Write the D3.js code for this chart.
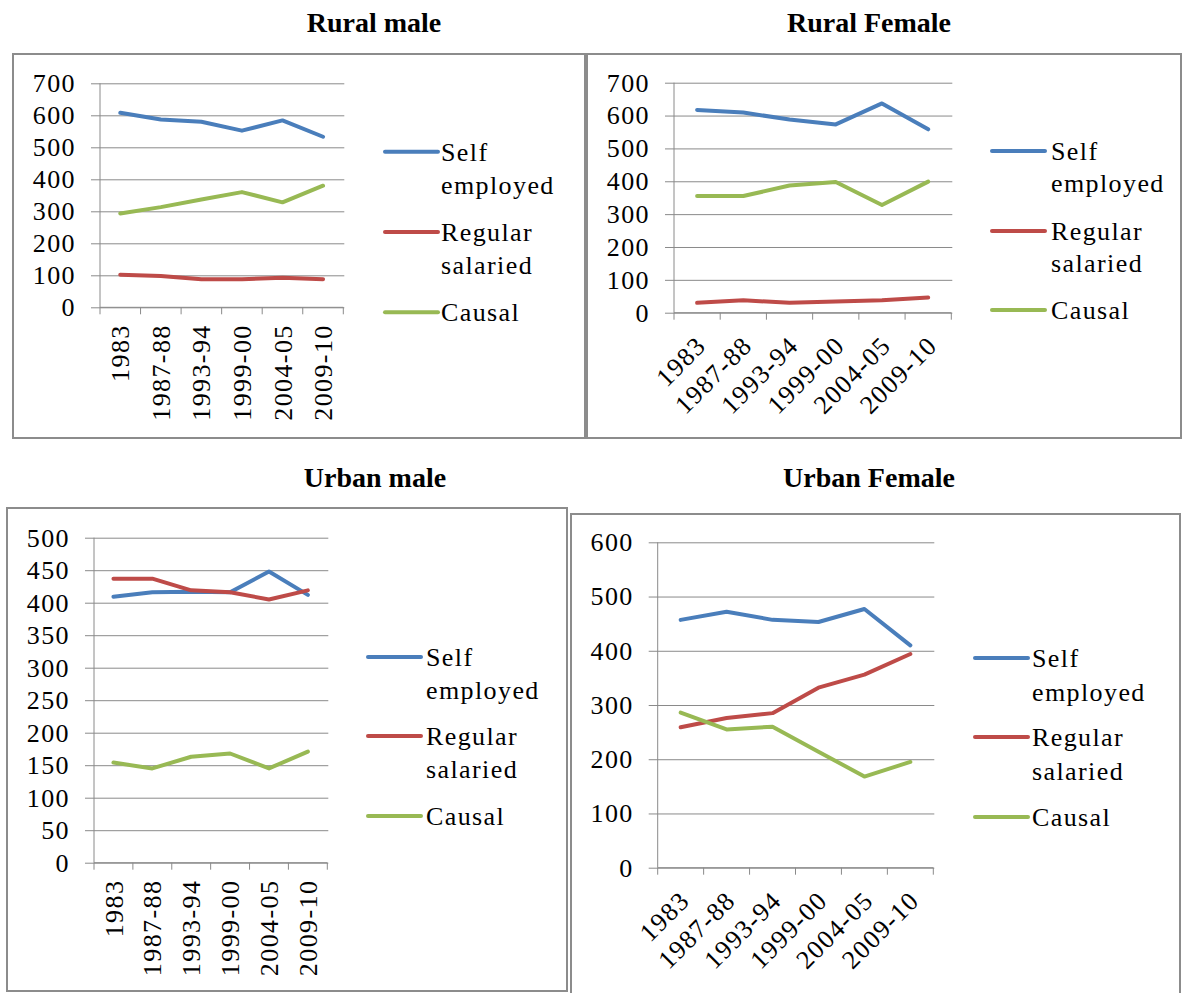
<!DOCTYPE html>
<html>
<head>
<meta charset="utf-8">
<script src="https://cdn.jsdelivr.net/npm/d3@7"></script>
<style>
  html, body { margin: 0; padding: 0; background: #fff; }
  svg { display: block; }
</style>
</head>
<body>
<svg id="chart" width="1183" height="993"></svg>
<script>
// ---------------- DATA ----------------
const categories = ["1983", "1987-88", "1993-94", "1999-00", "2004-05", "2009-10"];
const seriesNames = ["Self employed", "Regular salaried", "Causal"];
const legendLines = [["Self", "employed"], ["Regular", "salaried"], ["Causal"]];
const titles = ["Rural male", "Rural Female", "Urban male", "Urban Female"];

const ruralMaleSelf = [608, 587, 580, 552, 584, 533];
const ruralMaleRegular = [102, 98, 88, 88, 92, 88];
const ruralMaleCausal = [293, 313, 337, 360, 328, 380];

const ruralFemaleSelf = [617, 609, 588, 573, 637, 558];
const ruralFemaleRegular = [30, 38, 30, 34, 38, 46];
const ruralFemaleCausal = [355, 355, 387, 398, 328, 399];

const urbanMaleSelf = [409, 416, 417, 416, 448, 412];
const urbanMaleRegular = [437, 437, 419, 416, 405, 419];
const urbanMaleCausal = [154, 145, 163, 168, 145, 171];

const urbanFemaleSelf = [457, 472, 457, 453, 477, 410];
const urbanFemaleRegular = [259, 276, 285, 332, 356, 394];
const urbanFemaleCausal = [286, 255, 260, 214, 168, 195];

const ruralTicks = [0, 100, 200, 300, 400, 500, 600, 700];
const urbanMaleTicks = [0, 50, 100, 150, 200, 250, 300, 350, 400, 450, 500];
const urbanFemaleTicks = [0, 100, 200, 300, 400, 500, 600];

// ---------------- STYLE / LAYOUT ----------------
const colors = ["#4a7ebb", "#be4b48", "#98b954"];
const FONT = "'Liberation Serif', 'Times New Roman', serif";
const TITLE_FONT = "'Liberation Serif', 'Times New Roman', serif";
const FS = 26;
const LS = "1.4px";

const panels = [
  { title: titles[0], series: [ruralMaleSelf, ruralMaleRegular, ruralMaleCausal], ticks: ruralTicks,
    frame: [13, 54, 572, 384], titleXY: [374, 32],
    px: [100, 343.3], py: [307.3, 83.3], rot: -90,
    leg: { x0: 385, x1: 438, tx: 441, ys: [151.8, 232.1, 312.3], dy2: 33 } },
  { title: titles[1], series: [ruralFemaleSelf, ruralFemaleRegular, ruralFemaleCausal], ticks: ruralTicks,
    frame: [587, 54, 594, 384], titleXY: [869, 32],
    px: [674, 951.3], py: [312.7, 82.7], rot: -45,
    leg: { x0: 992, x1: 1045, tx: 1051, ys: [151, 231, 310], dy2: 32 } },
  { title: titles[2], series: [urbanMaleSelf, urbanMaleRegular, urbanMaleCausal], ticks: urbanMaleTicks,
    frame: [7, 508, 560, 483], titleXY: [375, 487],
    px: [94, 327.3], py: [862.7, 537.7], rot: -90,
    leg: { x0: 368, x1: 421, tx: 426, ys: [657, 736, 816], dy2: 33 } },
  { title: titles[3], series: [urbanFemaleSelf, urbanFemaleRegular, urbanFemaleCausal], ticks: urbanFemaleTicks,
    frame: [571, 514, 609, 482], titleXY: [869, 487],
    px: [657.7, 933.3], py: [867.7, 542.3], rot: -45,
    leg: { x0: 975, x1: 1028, tx: 1032, ys: [658, 737, 817], dy2: 34 } }
];

const svg = d3.select("#chart");

panels.forEach(p => {
  const g = svg.append("g");

  // frame
  g.append("rect")
    .attr("x", p.frame[0]).attr("y", p.frame[1])
    .attr("width", p.frame[2]).attr("height", p.frame[3])
    .attr("fill", "none").attr("stroke", "#8c8c8c").attr("stroke-width", 2);

  // title
  svg.append("text")
    .attr("x", p.titleXY[0]).attr("y", p.titleXY[1])
    .attr("text-anchor", "middle")
    .attr("font-family", TITLE_FONT).attr("font-weight", "bold").attr("font-size", 28)
    .attr("fill", "#000")
    .text(p.title);

  const x = d3.scaleBand().domain(categories).range(p.px).padding(0);
  const yMax = p.ticks[p.ticks.length - 1];
  const y = d3.scaleLinear().domain([0, yMax]).range(p.py);
  const cx = c => x(c) + x.bandwidth() / 2;

  // gridlines
  const grid = g.append("g")
    .attr("transform", `translate(${p.px[0] - 9},0)`)
    .call(d3.axisRight(y).tickValues(p.ticks).tickSize(p.px[1] - p.px[0] + 9 + 1).tickFormat(""));
  grid.select(".domain").remove();
  grid.selectAll(".tick line").attr("stroke", "#8a8a8a").attr("stroke-width", 1);

  // y labels
  const yl = g.append("g")
    .attr("transform", `translate(${p.px[0]},0)`)
    .attr("font-family", FONT)
    .call(d3.axisLeft(y).tickValues(p.ticks).tickSize(0).tickPadding(24));
  yl.attr("font-family", FONT).attr("font-size", FS);
  yl.select(".domain").remove();
  yl.selectAll("text")
    .attr("font-family", FONT).attr("font-size", FS).attr("fill", "#000")
    .style("letter-spacing", LS);

  // vertical axis line
  g.append("line")
    .attr("x1", p.px[0]).attr("x2", p.px[0])
    .attr("y1", y(yMax)).attr("y2", y(0))
    .attr("stroke", "#8a8a8a").attr("stroke-width", 1);

  // x axis line + boundary ticks
  g.append("line")
    .attr("x1", p.px[0]).attr("x2", p.px[1])
    .attr("y1", y(0)).attr("y2", y(0))
    .attr("stroke", "#8a8a8a").attr("stroke-width", 1);
  const bounds = categories.map(c => x(c)).concat([p.px[1]]);
  g.selectAll(".xtick").data(bounds).enter().append("line")
    .attr("x1", d => d).attr("x2", d => d)
    .attr("y1", y(0)).attr("y2", y(0) + 7)
    .attr("stroke", "#8a8a8a").attr("stroke-width", 1);

  // x labels
  g.selectAll(".xlab").data(categories).enter().append("text")
    .attr("transform", d => p.rot === -90
      ? `translate(${cx(d)},${y(0) + 17}) rotate(-90)`
      : `translate(${cx(d) + 4},${y(0) + 28}) rotate(-45)`)
    .attr("text-anchor", "end")
    .attr("dy", "0.35em")
    .attr("font-family", FONT).attr("font-size", FS).attr("fill", "#000")
    .style("letter-spacing", LS)
    .text(d => d);

  // lines
  const line = d3.line().x((d, i) => cx(categories[i])).y(d => y(d));
  p.series.forEach((s, k) => {
    g.append("path")
      .datum(s)
      .attr("d", line)
      .attr("fill", "none")
      .attr("stroke", colors[k])
      .attr("stroke-width", 4)
      .attr("stroke-linejoin", "round")
      .attr("stroke-linecap", "round");
  });

  // legend
  seriesNames.forEach((name, k) => {
    const ly = p.leg.ys[k];
    g.append("line")
      .attr("x1", p.leg.x0).attr("x2", p.leg.x1)
      .attr("y1", ly).attr("y2", ly)
      .attr("stroke", colors[k]).attr("stroke-width", 4).attr("stroke-linecap", "round");
    legendLines[k].forEach((t, j) => {
      g.append("text")
        .attr("x", p.leg.tx).attr("y", ly + j * p.leg.dy2)
        .attr("dy", "0.35em")
        .attr("font-family", FONT).attr("font-size", FS).attr("fill", "#000")
        .style("letter-spacing", LS)
        .text(t);
    });
  });
});
</script>
</body>
</html>
